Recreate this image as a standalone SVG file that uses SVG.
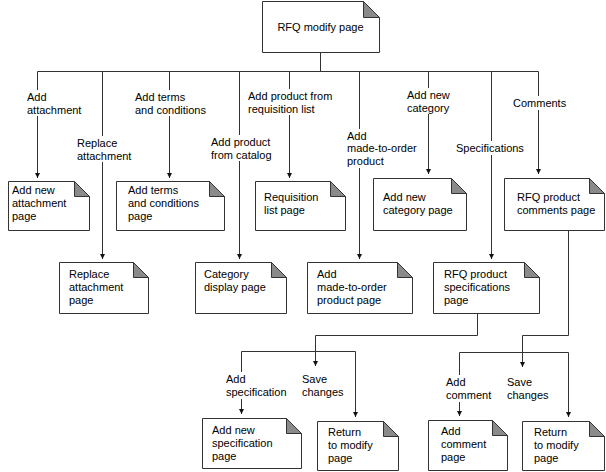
<svg xmlns="http://www.w3.org/2000/svg" width="606" height="472" viewBox="0 0 606 472">
<style>
  .box{fill:#fff;stroke:#333;stroke-width:1}
  .fold{fill:#8a8a8a;stroke:#333;stroke-width:1;stroke-linejoin:miter}
  text{font-family:"Liberation Sans",Arial,Helvetica,sans-serif;font-size:11px;fill:#000}
  .c{fill:none;stroke:#333;stroke-width:1}
  .a{marker-end:url(#ah)}
  .lbg{fill:#fff}
</style>
<defs>
  <marker id="ah" markerUnits="userSpaceOnUse" markerWidth="6" markerHeight="6" refX="5" refY="3" orient="auto">
    <path d="M0,0.5 L5,3 L0,5.5 z" fill="#111"/>
  </marker>
</defs>
<rect x="0" y="0" width="606" height="472" fill="#fff"/>

<g id="connectors">
  <path class="c" d="M320.5,52 V71.5"/>
  <path class="c" d="M37.5,71.5 H538.5"/>
  <path class="c a" d="M37.5,71.5 V178"/>
  <path class="c a" d="M102.5,71.5 V259"/>
  <path class="c a" d="M169.5,71.5 V178"/>
  <path class="c a" d="M239.5,71.5 V259"/>
  <path class="c a" d="M289.5,71.5 V178"/>
  <path class="c a" d="M359.5,71.5 V259"/>
  <path class="c a" d="M428.5,71.5 V174"/>
  <path class="c a" d="M491.5,71.5 V259"/>
  <path class="c a" d="M538.5,71.5 V174"/>
  <path class="c a" d="M477.5,313 V335.5 H315.5 V366"/>
  <path class="c" d="M241.5,351.5 H355.5"/>
  <path class="c a" d="M241.5,351.5 V414"/>
  <path class="c a" d="M355.5,351.5 V417"/>
  <path class="c a" d="M568.5,230 V335.5 H522.5 V367"/>
  <path class="c" d="M459.5,352.5 H568.5"/>
  <path class="c a" d="M459.5,352.5 V416"/>
  <path class="c a" d="M568.5,352.5 V417"/>
</g>

<g id="labels">
  <g id="l-add-attachment"><rect class="lbg" x="27" y="90" width="60" height="26"/><text x="27" y="101">Add</text><text x="27" y="114">attachment</text></g>
  <g id="l-replace-attachment"><rect class="lbg" x="77" y="136" width="58" height="26"/><text x="77" y="147">Replace</text><text x="77" y="160">attachment</text></g>
  <g id="l-add-terms"><rect class="lbg" x="135" y="90" width="72" height="26"/><text x="135" y="101">Add terms</text><text x="135" y="114">and conditions</text></g>
  <g id="l-add-catalog"><rect class="lbg" x="211" y="135" width="62" height="26"/><text x="211" y="146">Add product</text><text x="211" y="159">from catalog</text></g>
  <g id="l-add-req"><rect class="lbg" x="248" y="89" width="90" height="26"/><text x="248" y="100">Add product from</text><text x="248" y="113">requisition list</text></g>
  <g id="l-add-mto"><rect class="lbg" x="347" y="129" width="76" height="39"/><text x="347" y="140">Add</text><text x="347" y="152">made-to-order</text><text x="347" y="165">product</text></g>
  <g id="l-add-cat"><rect class="lbg" x="407" y="88" width="48" height="26"/><text x="407" y="99">Add new</text><text x="407" y="112">category</text></g>
  <g id="l-spec"><rect class="lbg" x="456" y="141" width="70" height="14"/><text x="456" y="152">Specifications</text></g>
  <g id="l-comments"><rect class="lbg" x="513" y="96" width="52" height="14"/><text x="513" y="107">Comments</text></g>
  <g id="l-add-specification"><rect class="lbg" x="226" y="372" width="62" height="27"/><text x="226" y="383">Add</text><text x="226" y="396">specification</text></g>
  <g id="l-save1"><rect class="lbg" x="302" y="372" width="42" height="27"/><text x="302" y="383">Save</text><text x="302" y="396">changes</text></g>
  <g id="l-add-comment"><rect class="lbg" x="446" y="375" width="46" height="27"/><text x="446" y="386">Add</text><text x="446" y="399">comment</text></g>
  <g id="l-save2"><rect class="lbg" x="507" y="375" width="42" height="27"/><text x="507" y="386">Save</text><text x="507" y="399">changes</text></g>
</g>

<g id="n-rfq-modify">
  <path class="box" d="M262.5,1.5 H363.5 L379.5,17.5 V52.5 H262.5 Z"/>
  <path class="fold" d="M363.5,1.5 V17.5 H379.5 Z"/>
  <text x="320.5" y="31" text-anchor="middle">RFQ modify page</text>
</g>
<g id="n-add-attachment">
  <path class="box" d="M8.5,181.5 H74.5 L89.5,196.5 V230.5 H8.5 Z"/>
  <path class="fold" d="M74.5,181.5 V196.5 H89.5 Z"/>
  <text x="12" y="194">Add new</text><text x="12" y="207">attachment</text><text x="12" y="220">page</text>
</g>
<g id="n-add-terms">
  <path class="box" d="M116.5,181.5 H209.5 L224.5,196.5 V230.5 H116.5 Z"/>
  <path class="fold" d="M209.5,181.5 V196.5 H224.5 Z"/>
  <text x="128" y="194">Add terms</text><text x="128" y="207">and conditions</text><text x="128" y="220">page</text>
</g>
<g id="n-requisition">
  <path class="box" d="M255.5,181.5 H330.5 L345.5,196.5 V230.5 H255.5 Z"/>
  <path class="fold" d="M330.5,181.5 V196.5 H345.5 Z"/>
  <text x="264" y="201">Requisition</text><text x="264" y="214">list page</text>
</g>
<g id="n-add-category">
  <path class="box" d="M373.5,178.5 H451.5 L466.5,193.5 V230.5 H373.5 Z"/>
  <path class="fold" d="M451.5,178.5 V193.5 H466.5 Z"/>
  <text x="383" y="201">Add new</text><text x="383" y="214">category page</text>
</g>
<g id="n-comments">
  <path class="box" d="M504.5,178.5 H589.5 L604.5,193.5 V230.5 H504.5 Z"/>
  <path class="fold" d="M589.5,178.5 V193.5 H604.5 Z"/>
  <text x="517" y="201">RFQ product</text><text x="517" y="214">comments page</text>
</g>
<g id="n-replace">
  <path class="box" d="M59.5,262.5 H133.5 L148.5,277.5 V313.5 H59.5 Z"/>
  <path class="fold" d="M133.5,262.5 V277.5 H148.5 Z"/>
  <text x="69" y="278">Replace</text><text x="69" y="291">attachment</text><text x="69" y="304">page</text>
</g>
<g id="n-category-display">
  <path class="box" d="M195.5,262.5 H271.5 L286.5,277.5 V313.5 H195.5 Z"/>
  <path class="fold" d="M271.5,262.5 V277.5 H286.5 Z"/>
  <text x="204" y="278">Category</text><text x="204" y="291">display page</text>
</g>
<g id="n-made-to-order">
  <path class="box" d="M307.5,262.5 H397.5 L412.5,277.5 V313.5 H307.5 Z"/>
  <path class="fold" d="M397.5,262.5 V277.5 H412.5 Z"/>
  <text x="317" y="278">Add</text><text x="317" y="291">made-to-order</text><text x="317" y="304">product page</text>
</g>
<g id="n-specifications">
  <path class="box" d="M433.5,262.5 H524.5 L539.5,277.5 V313.5 H433.5 Z"/>
  <path class="fold" d="M524.5,262.5 V277.5 H539.5 Z"/>
  <text x="444" y="278">RFQ product</text><text x="444" y="291">specifications</text><text x="444" y="304">page</text>
</g>
<g id="n-add-spec">
  <path class="box" d="M202.5,418.5 H286.5 L301.5,433.5 V468.5 H202.5 Z"/>
  <path class="fold" d="M286.5,418.5 V433.5 H301.5 Z"/>
  <text x="212" y="434">Add new</text><text x="212" y="447">specification</text><text x="212" y="460">page</text>
</g>
<g id="n-return-1">
  <path class="box" d="M317.5,421.5 H383.5 L398.5,436.5 V470.5 H317.5 Z"/>
  <path class="fold" d="M383.5,421.5 V436.5 H398.5 Z"/>
  <text x="328" y="436">Return</text><text x="328" y="449">to modify</text><text x="328" y="462">page</text>
</g>
<g id="n-add-comment">
  <path class="box" d="M428.5,420.5 H492.5 L507.5,435.5 V470.5 H428.5 Z"/>
  <path class="fold" d="M492.5,420.5 V435.5 H507.5 Z"/>
  <text x="441" y="435">Add</text><text x="441" y="448">comment</text><text x="441" y="461">page</text>
</g>
<g id="n-return-2">
  <path class="box" d="M522.5,421.5 H589.5 L604.5,436.5 V470.5 H522.5 Z"/>
  <path class="fold" d="M589.5,421.5 V436.5 H604.5 Z"/>
  <text x="534" y="436">Return</text><text x="534" y="449">to modify</text><text x="534" y="462">page</text>
</g>
</svg>
